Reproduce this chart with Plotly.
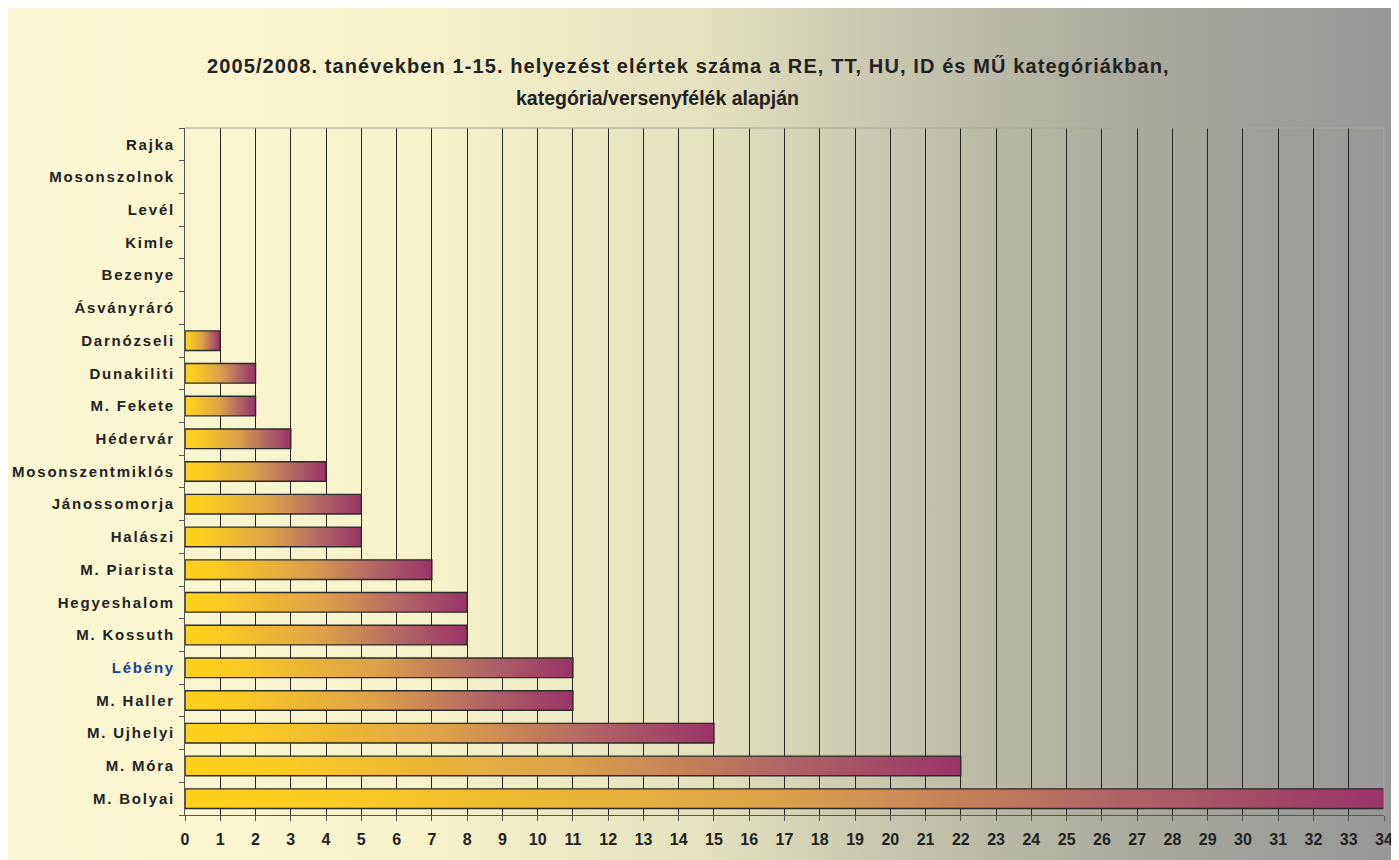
import base64
import plotly.graph_objects as go

# ---- data (top to bottom as shown) ----
categories = ["Rajka", "Mosonszolnok", "Levél", "Kimle", "Bezenye", "Ásványráró",
              "Darnózseli", "Dunakiliti", "M. Fekete", "Hédervár", "Mosonszentmiklós",
              "Jánossomorja", "Halászi", "M. Piarista", "Hegyeshalom", "M. Kossuth",
              "Lébény", "M. Haller", "M. Ujhelyi", "M. Móra", "M. Bolyai"]
values = [0, 0, 0, 0, 0, 0, 1, 2, 2, 3, 4, 5, 5, 7, 8, 8, 11, 11, 15, 22, 34]
x_ticks = list(range(0, 35))
highlight = "Lébény"
title_line1 = "2005/2008. tanévekben 1-15. helyezést elértek száma a RE, TT, HU, ID és MŰ kategóriákban,"
title_line2 = "kategória/versenyfélék alapján"

# page is offset by the 8px body margin
OFF = 8
FW, FH = 1389, 852
ML, MR, MT, MB = 185 - OFF, 13, 128 - OFF, 45
PW, PH = FW - ML - MR, FH - MT - MB

bar_scale = [[0.0, "#FFD11A"], [0.12, "#FCCB22"], [0.5, "#DCA04B"],
             [0.78, "#B06366"], [1.0, "#993366"]]
half = 0.3

fig = go.Figure()
for i, (cat, v) in enumerate(zip(categories, values)):
    if v <= 0:
        continue
    xs = [0, v, v, 0, 0]
    ys = [i - half, i - half, i + half, i + half, i - half]
    fig.add_trace(go.Scatter(
        x=xs, y=ys, mode="lines", fill="toself",
        fillgradient=dict(type="horizontal", colorscale=bar_scale),
        line=dict(color="#2b2b2b", width=1.4),
        showlegend=False, hoverinfo="skip"))

def style_label(c):
    color = "#17428C" if c == highlight else "#222222"
    return f"<span style='letter-spacing:1.8px;fill:{color}'>{c}</span>"

# background gradient as svg
svg = ("<svg xmlns='http://www.w3.org/2000/svg' width='100' height='100' preserveAspectRatio='none'>"
       "<defs><linearGradient id='g' x1='0' y1='0' x2='1' y2='0'>"
       "<stop offset='0' stop-color='#FBF8D3'/>"
       "<stop offset='0.3' stop-color='#F6F3CB'/>"
       "<stop offset='0.5' stop-color='#E4E2BD'/>"
       "<stop offset='0.65' stop-color='#C4C3AC'/>"
       "<stop offset='0.8' stop-color='#ABAB9F'/>"
       "<stop offset='1' stop-color='#969696'/>"
       "</linearGradient></defs><rect width='100' height='100' fill='url(#g)'/></svg>")
src = "data:image/svg+xml;base64," + base64.b64encode(svg.encode()).decode()

fig.add_layout_image(dict(
    source=src, xref="paper", yref="paper",
    x=-ML / PW, y=(PH + MT) / PH,
    sizex=FW / PW, sizey=FH / PH,
    sizing="stretch", xanchor="left", yanchor="top", layer="below"))

def px_to_paper_x(px):
    return (px - OFF - ML) / PW

def px_to_paper_y(py):
    return (MT + PH - (py - OFF)) / PH

fig.add_annotation(text=f"<span style='letter-spacing:1.1px'>{title_line1}</span>",
                   xref="paper", yref="paper",
                   x=px_to_paper_x(688), y=px_to_paper_y(66), showarrow=False,
                   xanchor="center", yanchor="middle",
                   font=dict(family="Liberation Sans, Arial", size=20, color="#222222", weight="bold"))
fig.add_annotation(text=title_line2, xref="paper", yref="paper",
                   x=px_to_paper_x(657), y=px_to_paper_y(98), showarrow=False,
                   xanchor="center", yanchor="middle",
                   font=dict(family="Liberation Sans, Arial", size=19.5, color="#222222", weight="bold"))

fig.update_layout(
    width=FW, height=FH,
    margin=dict(l=ML, r=MR, t=MT, b=MB, autoexpand=False),
    paper_bgcolor="#FBF8D3", plot_bgcolor="#FCF8D0",
    xaxis=dict(range=[0, 34], tickvals=x_ticks, ticktext=[str(t) for t in x_ticks],
               showgrid=True, gridcolor="#262626", gridwidth=1,
               showline=True, linecolor="#555555", linewidth=1, mirror=False,
               ticks="outside", ticklen=5, tickcolor="#555555", ticklabelstandoff=5,
               tickfont=dict(family="Liberation Sans, Arial", size=16, color="#222222", weight="bold"),
               zeroline=False, fixedrange=True),
    yaxis=dict(range=[len(categories) - 0.5, -0.5],
               tickvals=list(range(len(categories))),
               ticktext=[style_label(c) for c in categories],
               showgrid=False, zeroline=False,
               showline=True, linecolor="#555555", linewidth=1,
               ticks="", ticklabelstandoff=6,
               minor=dict(tickmode="linear", tick0=0.5, dtick=1, ticks="outside",
                          ticklen=5, tickcolor="#555555", showgrid=False),
               tickfont=dict(family="Liberation Sans, Arial", size=15, color="#222222", weight="bold"),
               fixedrange=True),
    shapes=[dict(type="line", xref="paper", yref="paper", x0=0, x1=1, y0=1, y1=1,
                 line=dict(color="#A8A898", width=1)),
            dict(type="line", xref="paper", yref="paper", x0=1, x1=1, y0=0, y1=1,
                 line=dict(color="#A8A898", width=1))],
)

fig.write_html("out.html")
